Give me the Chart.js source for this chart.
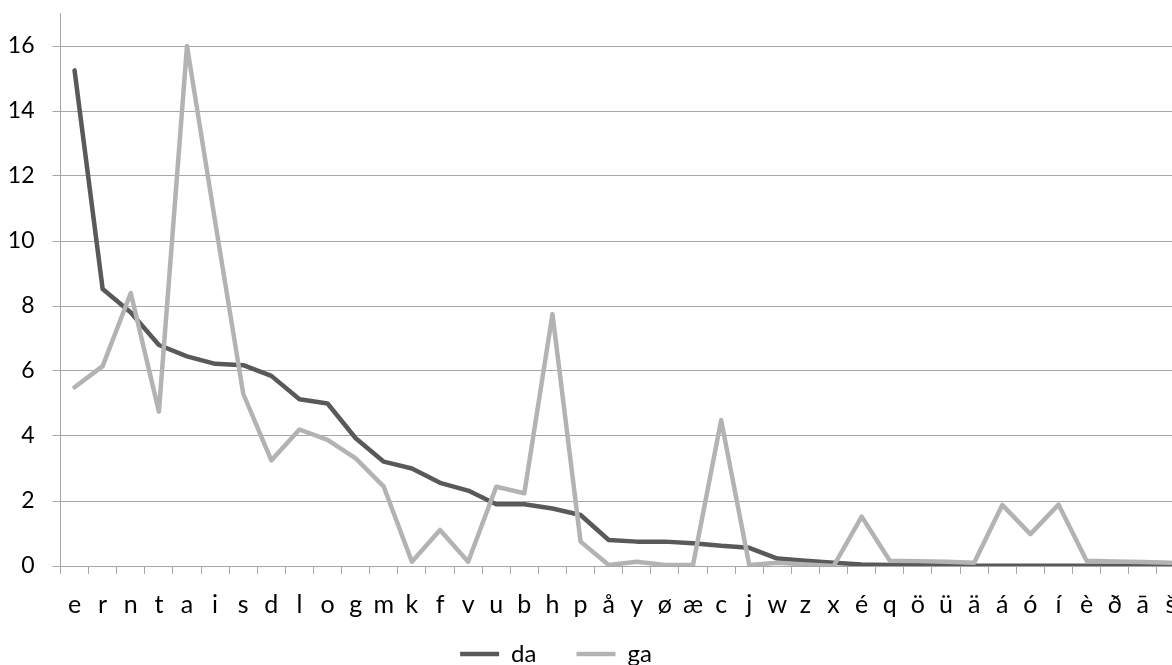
<!DOCTYPE html>
<html>
<head>
<meta charset="utf-8">
<script src="https://cdn.jsdelivr.net/npm/chart.js@4.4.1/dist/chart.umd.min.js"></script>
<style>
  html, body { margin: 0; padding: 0; background: #fff; overflow: hidden; }
  #wrap { width: 1185px; height: 665px; }
</style>
</head>
<body>
<div id="wrap"><canvas id="chart" width="1185" height="665"></canvas></div>
<script>
// letters, sorted by Danish frequency
const letters = ['e', 'r', 'n', 't', 'a', 'i', 's', 'd', 'l', 'o', 'g', 'm', 'k', 'f', 'v', 'u', 'b', 'h', 'p', 'å',
                 'y', 'ø', 'æ', 'c', 'j', 'w', 'z', 'x', 'é', 'q', 'ö', 'ü', 'ä', 'á', 'ó', 'í', 'è', 'ð', 'ā', 'š'];

const daValues = [15.25, 8.52, 7.8, 6.8, 6.45, 6.22, 6.18, 5.85, 5.13, 5.0, 3.93, 3.21, 3.0, 2.56, 2.32, 1.9, 1.9, 1.77, 1.57, 0.8,
                  0.75, 0.75, 0.7, 0.62, 0.56, 0.23, 0.16, 0.1, 0.05, 0.03, 0.02, 0.02, 0.01, 0.01, 0.01, 0.01, 0.01, 0.01, 0.01, 0.01];

const gaValues = [5.5, 6.15, 8.4, 4.75, 16.0, 10.6, 5.3, 3.25, 4.2, 3.88, 3.31, 2.44, 0.13, 1.11, 0.13, 2.44, 2.24, 7.75, 0.75, 0.03,
                  0.13, 0.03, 0.03, 4.49, 0.03, 0.1, 0.05, 0.0, 1.52, 0.16, 0.15, 0.13, 0.1, 1.88, 0.98, 1.89, 0.16, 0.14, 0.12, 0.1];

const yTicks = [0, 2, 4, 6, 8, 10, 12, 14, 16];

const FONT = 'Lato, "Open Sans", sans-serif';
const LEGEND_FONT = 24;
const LEGEND_PAD = 40;
const X_AXIS_H = 54;
const axisGrey = '#a6a6a6';

// put the legend where the original sheet had it
const legendShift = {
    id: 'legendShift',
    afterLayout(chart) {
        const lg = chart.legend;
        if (!lg) return;
        const dx = 556 - (lg.left + lg.right) / 2;
        lg.left += dx;
        lg.right += dx;
        // item centre = top + padding + fontSize / 2
        const dy = 654 - (lg.top + LEGEND_PAD + LEGEND_FONT / 2);
        lg.top += dy;
        lg.bottom += dy;
    }
};

new Chart(document.getElementById('chart'), {
    type: 'line',
    data: {
        labels: letters,
        datasets: [{
            label: 'da',
            data: daValues,
            borderColor: '#595959',
            backgroundColor: '#595959',
            borderWidth: 4.5,
            pointRadius: 0,
            tension: 0,
            borderJoinStyle: 'round',
            borderCapStyle: 'round',
            order: 1
        }, {
            label: 'ga',
            data: gaValues,
            borderColor: '#b3b3b3',
            backgroundColor: '#b3b3b3',
            borderWidth: 4.5,
            pointRadius: 0,
            tension: 0,
            borderJoinStyle: 'round',
            borderCapStyle: 'round',
            order: 0
        }]
    },
    options: {
        responsive: false,
        animation: false,
        layout: {
            // legend box = font + padding + 10; plot bottom lands on y=566
            padding: { top: 13.5, left: 0, right: 0, bottom: 665 - 566 - X_AXIS_H - (LEGEND_FONT + LEGEND_PAD + 10) }
        },
        plugins: {
            tooltip: { enabled: false },
            legend: {
                position: 'bottom',
                labels: {
                    usePointStyle: true,
                    pointStyle: 'line',
                    pointStyleWidth: 39,
                    padding: LEGEND_PAD,
                    color: '#000',
                    font: { family: FONT, size: LEGEND_FONT },
                    sort: (a, b) => a.datasetIndex - b.datasetIndex
                }
            }
        },
        scales: {
            x: {
                offset: true,
                grid: {
                    offset: true,
                    drawOnChartArea: false,
                    drawTicks: true,
                    tickLength: 8,
                    color: axisGrey
                },
                border: { color: axisGrey, width: 1 },
                ticks: {
                    autoSkip: false,
                    maxRotation: 0,
                    padding: 16,
                    color: '#000',
                    font: { family: FONT, size: 25 }
                },
                afterFit: (axis) => {
                    axis.height = X_AXIS_H;
                    axis.paddingLeft = 0;
                    axis.paddingRight = 0;
                }
            },
            y: {
                min: 0,
                max: 17,
                afterBuildTicks: (axis) => {
                    axis.ticks = yTicks.map(v => ({ value: v }));
                },
                grid: {
                    color: axisGrey,
                    tickLength: 8
                },
                border: { color: axisGrey, width: 1 },
                ticks: {
                    padding: 18,
                    color: '#000',
                    font: { family: FONT, size: 23 }
                },
                afterFit: (axis) => {
                    axis.width = 60.5;
                    axis.paddingTop = 0;
                    axis.paddingBottom = 0;
                }
            }
        }
    },
    plugins: [legendShift]
});
</script>
</body>
</html>
